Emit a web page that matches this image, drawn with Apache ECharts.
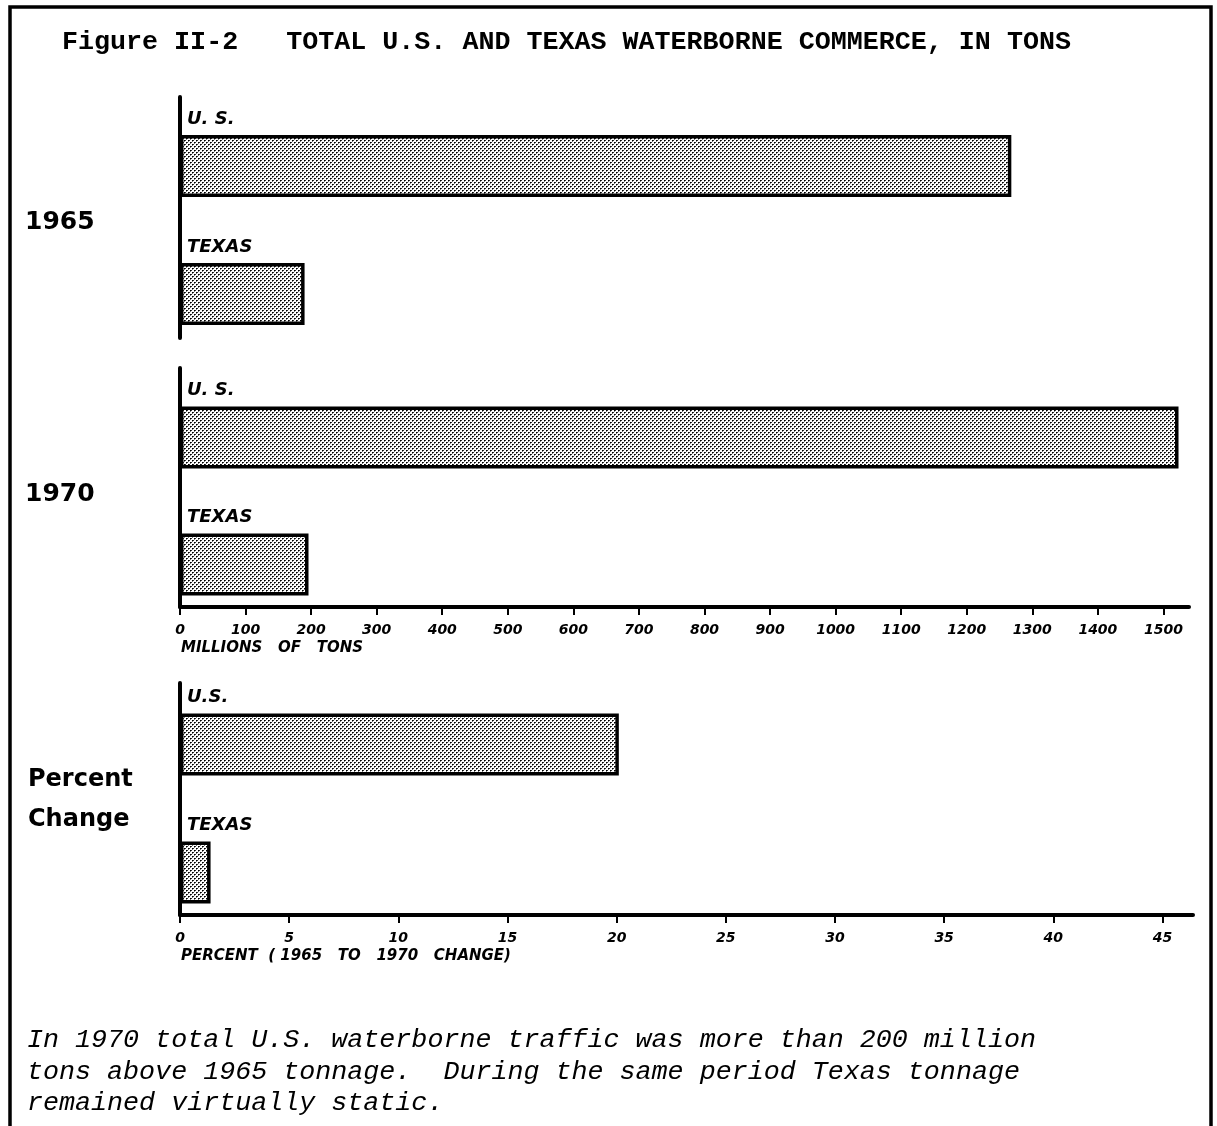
<!DOCTYPE html>
<html><head><meta charset="utf-8">
<script src="https://cdn.jsdelivr.net/npm/echarts@6/dist/echarts.min.js"></script>
<style>html,body{margin:0;padding:0;background:#fff}#c{width:1217px;height:1126px}</style>
</head><body><div id="c"></div>
<script>
// ---- data ----
const categories1965 = ['U. S.', 'TEXAS'];
const categories1970 = ['U. S.', 'TEXAS'];
const categoriesChange = ['U.S.', 'TEXAS'];
const tons1965 = [1268, 190];          // millions of tons
const tons1970 = [1523, 196];          // millions of tons
const percentChange = [20.1, 1.4];     // percent, 1965 to 1970
const tonTicks = [0, 100, 200, 300, 400, 500, 600, 700, 800, 900, 1000, 1100, 1200, 1300, 1400, 1500];
const percentTicks = [0, 5, 10, 15, 20, 25, 30, 35, 40, 45];
const titleText = 'Figure II-2   TOTAL U.S. AND TEXAS WATERBORNE COMMERCE, IN TONS';
const noteLines = [
  'In 1970 total U.S. waterborne traffic was more than 200 million',
  'tons above 1965 tonnage.  During the same period Texas tonnage',
  'remained virtually static.'
];

// ---- stipple pattern ----
const pc = document.createElement('canvas');
pc.width = 4; pc.height = 4;
const px = pc.getContext('2d');
px.fillStyle = '#fff'; px.fillRect(0, 0, 4, 4);
px.fillStyle = '#000'; px.fillRect(0, 0, 1, 1); px.fillRect(2, 2, 1, 1);
px.fillStyle = '#333'; px.fillRect(1, 0, 1, 1); px.fillRect(3, 2, 1, 1);
px.fillStyle = '#777'; px.fillRect(0, 1, 1, 1); px.fillRect(2, 3, 1, 1);
const stipple = { image: pc, repeat: 'repeat' };

const L = 180;
const MAX_T = 1539, W_T = 1009;
const MAX_P = 46.4, W_P = 1013;

const labelFont = { fontFamily: 'DejaVu Sans', fontStyle: 'italic', fontWeight: 'bold', color: '#000' };

function frameX(grid, max, ticks, show) {
  return {
    gridIndex: grid, type: 'value', min: 0, max: max, show: show,
    axisLine: { show: true, lineStyle: { color: '#000', width: 4 } },
    axisTick: { show: true, length: 8, lineStyle: { color: '#000', width: 2 }, customValues: ticks },
    axisLabel: Object.assign({ customValues: ticks, margin: 16, fontSize: 14, formatter: function (v) { return String(v); } }, labelFont),
    splitLine: { show: false }
  };
}
function hiddenX(grid, max) {
  return { gridIndex: grid, type: 'value', min: 0, max: max, show: false, splitLine: { show: false } };
}
function frameY(grid) {
  return {
    gridIndex: grid, type: 'value', min: 0, max: 1,
    axisLine: { show: true, lineStyle: { color: '#000', width: 4 } },
    axisTick: { show: false }, axisLabel: { show: false }, splitLine: { show: false }
  };
}
function catY(grid, cats) {
  return { gridIndex: grid, type: 'category', inverse: true, data: cats, show: false };
}
function barSeries(idx, data) {
  return {
    type: 'bar', xAxisIndex: idx, yAxisIndex: idx, data: data, barWidth: 62,
    itemStyle: { color: stipple, borderColor: '#000', borderWidth: 3.5 },
    label: Object.assign({ show: true, formatter: '{b}', position: [7, -16], align: 'left', verticalAlign: 'middle', fontSize: 18 }, labelFont),
    silent: true
  };
}

function txt(x, y, text, font) {
  return { type: 'text', x: x, y: y, silent: true,
    style: { text: text, font: font, fill: '#000', textVerticalAlign: 'middle', textAlign: 'left' } };
}

const chart = echarts.init(document.getElementById('c'));
chart.setOption({
  animation: false,
  backgroundColor: '#fff',
  grid: [
    { left: L, width: W_T, top: 102, height: 256 },
    { left: L, width: W_T, top: 97, height: 241 },
    { left: L, width: W_T, top: 374, height: 254 },
    { left: L, width: W_T, top: 368, height: 239 },
    { left: L, width: W_P, top: 680.5, height: 256 },
    { left: L, width: W_P, top: 683, height: 232 }
  ],
  xAxis: [
    hiddenX(0, MAX_T), hiddenX(1, MAX_T),
    hiddenX(2, MAX_T), frameX(3, MAX_T, tonTicks, true),
    hiddenX(4, MAX_P), frameX(5, MAX_P, percentTicks, true)
  ],
  yAxis: [
    catY(0, categories1965), frameY(1),
    catY(2, categories1970), frameY(3),
    catY(4, categoriesChange), frameY(5)
  ],
  series: [
    barSeries(0, tons1965),
    barSeries(2, tons1970),
    barSeries(4, percentChange)
  ],
  graphic: [
    { type: 'rect', silent: true, shape: { x: 10, y: 7, width: 1201, height: 1200 },
      style: { fill: 'none', stroke: '#000', lineWidth: 3.5 } },
    txt(62, 42, titleText, 'bold 26.7px "Liberation Mono"'),
    txt(25, 222, '1965', 'bold 25px "DejaVu Sans"'),
    txt(25, 494, '1970', 'bold 25px "DejaVu Sans"'),
    txt(28, 780, 'Percent', 'bold 24px "DejaVu Sans"'),
    txt(28, 820, 'Change', 'bold 24px "DejaVu Sans"'),
    txt(181, 648, 'MILLIONS   OF   TONS', 'italic bold 15px "DejaVu Sans"'),
    txt(181, 956, 'PERCENT  ( 1965   TO   1970   CHANGE)', 'italic bold 15px "DejaVu Sans"'),
    txt(27, 1040, noteLines[0], 'italic 26.7px "Liberation Mono"'),
    txt(27, 1072, noteLines[1], 'italic 26.7px "Liberation Mono"'),
    txt(27, 1103, noteLines[2], 'italic 26.7px "Liberation Mono"')
  ]
});
</script></body></html>
